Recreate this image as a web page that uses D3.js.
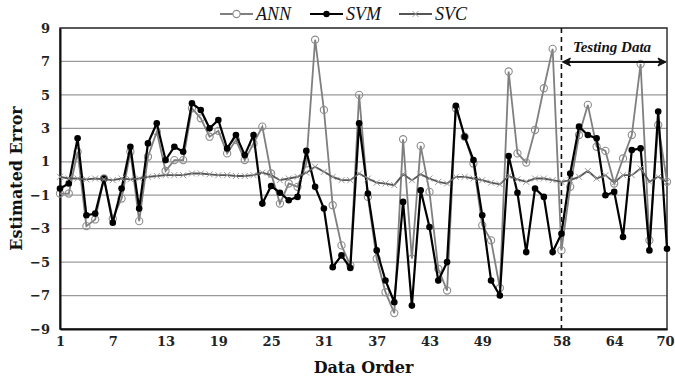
<!DOCTYPE html>
<html><head><meta charset="utf-8">
<script src="https://cdn.jsdelivr.net/npm/d3@7"></script>
<style>body{margin:0;background:#fff}svg{display:block}</style>
</head><body>
<svg id="c" width="675" height="381"></svg>
<script>
const order = d3.range(1, 71);
const xTicks = [1, 7, 13, 19, 25, 31, 37, 43, 49, 58, 64, 70];
const yTicks = [-9, -7, -5, -3, -1, 1, 3, 5, 7, 9];
const ann = [-0.9,-0.9,1.6,-2.85,-2.45,0.0,-2.4,-1.2,1.6,-2.55,
  1.3,2.8,0.45,1.1,1.1,4.2,3.6,2.5,2.85,1.5,
  2.3,1.1,2.1,3.1,0.3,-1.5,-0.3,-0.5,0.9,8.3,
  4.1,-1.6,-4.0,-5.2,5.0,-1.1,-4.8,-6.8,-8.05,2.35,
  -4.8,1.95,-0.8,-5.4,-6.7,4.2,2.5,0.9,-2.8,-3.7,
  -6.55,6.4,1.5,0.95,2.9,5.4,7.75,-4.3,-0.5,2.6,
  4.4,1.9,1.65,-0.3,1.2,2.6,6.85,-3.7,3.2,-0.2];
const svm = [-0.6,-0.3,2.4,-2.2,-2.1,0.0,-2.65,-0.6,1.9,-1.8,
  2.1,3.3,1.1,1.9,1.6,4.5,4.1,3.0,3.5,1.8,
  2.6,1.4,2.6,-1.5,-0.45,-0.85,-1.3,-1.1,1.65,-0.5,
  -1.8,-5.3,-4.6,-5.35,3.3,-0.9,-4.3,-6.1,-7.4,-1.4,
  -7.6,-0.7,-2.9,-6.1,-5.0,4.35,2.5,1.1,-2.2,-6.1,
  -7.0,1.35,-0.85,-4.4,-0.6,-1.1,-4.4,-3.3,0.3,3.1,
  2.6,2.4,-1.0,-0.8,-3.5,1.7,1.8,-4.3,4.0,-4.2];
const svc = [0.1,0.0,0.0,-0.05,0.0,-0.05,-0.1,0.0,-0.05,0.0,
  0.1,0.15,0.2,0.2,0.2,0.3,0.3,0.25,0.2,0.2,
  0.15,0.15,0.2,0.35,0.2,-0.1,0.0,0.1,0.35,0.7,
  0.4,0.1,-0.1,-0.1,0.3,0.0,-0.25,-0.3,-0.4,0.25,
  -0.1,0.25,0.0,-0.2,-0.3,0.1,0.1,0.0,-0.1,-0.25,
  -0.35,0.15,-0.05,-0.2,0.0,0.0,-0.1,-0.2,-0.1,0.1,
  0.45,0.0,0.2,-0.25,0.2,0.2,0.6,-0.2,0.1,-0.2];
const seriesNames = ["ANN", "SVM", "SVC"];
const testStart = 58;

const svg = d3.select("#c");
const L = 60, R = 667, T = 28, B = 329;
const x = d3.scaleLinear().domain([1, 70]).range([L, R]);
const y = d3.scaleLinear().domain([-9, 9]).range([B, T]);

// gridlines
svg.append("g").selectAll("line").data(yTicks).join("line")
  .attr("x1", L).attr("x2", R).attr("y1", d => y(d)).attr("y2", d => y(d))
  .attr("stroke", "#9a9a9a").attr("stroke-width", 1.2);

// frame
svg.append("rect").attr("x", L).attr("y", T).attr("width", R - L).attr("height", B - T)
  .attr("fill", "none").attr("stroke", "#333").attr("stroke-width", 1.5);

// axes
const yAxis = svg.append("g").attr("transform", `translate(${L},0)`)
  .call(d3.axisLeft(y).tickValues(yTicks).tickSize(0).tickPadding(10));
const xAxis = svg.append("g").attr("transform", `translate(0,${B})`)
  .call(d3.axisBottom(x).tickValues(xTicks).tickSize(0).tickPadding(8));
[yAxis, xAxis].forEach(a => {
  a.select(".domain").attr("stroke", "#111").attr("stroke-width", 2);
  a.selectAll("text").attr("font-family", "DejaVu Serif").attr("font-weight", "bold")
    .attr("font-size", 13).attr("fill", "#222");
});
xAxis.selectAll(".tick").filter(d => d === 70).select("text")
  .attr("text-anchor", "end").attr("x", 7);

// testing separator
svg.append("line").attr("x1", x(testStart)).attr("x2", x(testStart)).attr("y1", T).attr("y2", B)
  .attr("stroke", "#111").attr("stroke-width", 1.6).attr("stroke-dasharray", "5,4");

const line = d3.line().x((d, i) => x(order[i])).y(d => y(d));

// ANN
svg.append("path").attr("d", line(ann)).attr("fill", "none").attr("stroke", "#7f7f7f").attr("stroke-width", 1.8);
svg.append("g").selectAll("circle").data(ann).join("circle")
  .attr("cx", (d, i) => x(order[i])).attr("cy", d => y(d)).attr("r", 3.6)
  .attr("fill", "none").attr("stroke", "#8c8c8c").attr("stroke-width", 1.1);

// SVM
svg.append("path").attr("d", line(svm)).attr("fill", "none").attr("stroke", "#000").attr("stroke-width", 2.2);
svg.append("g").selectAll("circle").data(svm).join("circle")
  .attr("cx", (d, i) => x(order[i])).attr("cy", d => y(d)).attr("r", 3.3).attr("fill", "#000");

// SVC
svg.append("path").attr("d", line(svc)).attr("fill", "none").attr("stroke", "#555").attr("stroke-width", 1.8);
const xm = 3;
svg.append("g").selectAll("path").data(svc).join("path")
  .attr("d", (d, i) => { const cx = x(order[i]), cy = y(d);
    return `M${cx-xm},${cy-xm}L${cx+xm},${cy+xm}M${cx-xm},${cy+xm}L${cx+xm},${cy-xm}`; })
  .attr("stroke", "#999").attr("stroke-width", 1);

// Testing Data annotation
svg.append("text").attr("x", 612).attr("y", 52).attr("text-anchor", "middle")
  .attr("font-family", "Liberation Serif").attr("font-style", "italic").attr("font-weight", "bold")
  .attr("font-size", 15).attr("fill", "#111").text("Testing Data");
const ay = 62;
svg.append("line").attr("x1", x(testStart) + 2).attr("x2", R - 2).attr("y1", ay).attr("y2", ay)
  .attr("stroke", "#111").attr("stroke-width", 1.8);
svg.append("path").attr("d", `M${x(testStart)+1},${ay}l8,-4l-2,4l2,4z`).attr("fill", "#111").attr("stroke", "#111");
svg.append("path").attr("d", `M${R-1},${ay}l-8,-4l2,4l-2,4z`).attr("fill", "#111").attr("stroke", "#111");

// axis titles
svg.append("text").attr("transform", `translate(22,${(T + B) / 2}) rotate(-90)`).attr("text-anchor", "middle")
  .attr("font-family", "DejaVu Serif").attr("font-weight", "bold").attr("font-size", 16).attr("fill", "#111")
  .text("Estimated Error");
svg.append("text").attr("x", (L + R) / 2).attr("y", 373).attr("text-anchor", "middle")
  .attr("font-family", "DejaVu Serif").attr("font-weight", "bold").attr("font-size", 16).attr("fill", "#111")
  .text("Data Order");

// legend
const leg = svg.append("g");
const legItems = [
  {name: seriesNames[0], x0: 220, stroke: "#7f7f7f", marker: "circle"},
  {name: seriesNames[1], x0: 310, stroke: "#000", marker: "dot"},
  {name: seriesNames[2], x0: 399, stroke: "#555", marker: "x"}
];
const ly = 14;
legItems.forEach(it => {
  leg.append("line").attr("x1", it.x0).attr("x2", it.x0 + 33).attr("y1", ly).attr("y2", ly)
    .attr("stroke", it.stroke).attr("stroke-width", it.marker === "dot" ? 2.2 : 1.8);
  const cx = it.x0 + 16.5;
  if (it.marker === "circle") leg.append("circle").attr("cx", cx).attr("cy", ly).attr("r", 3.6)
    .attr("fill", "#fff").attr("stroke", "#8c8c8c").attr("stroke-width", 1.1);
  else if (it.marker === "dot") leg.append("circle").attr("cx", cx).attr("cy", ly).attr("r", 3.2).attr("fill", "#000");
  else leg.append("path").attr("d", `M${cx-xm},${ly-xm}L${cx+xm},${ly+xm}M${cx-xm},${ly+xm}L${cx+xm},${ly-xm}`)
    .attr("stroke", "#999").attr("stroke-width", 1);
  leg.append("text").attr("x", it.x0 + 36).attr("y", ly + 6)
    .attr("font-family", "Liberation Serif").attr("font-style", "italic").attr("font-size", 18).attr("fill", "#111")
    .text(it.name);
});
</script>
</body></html>
